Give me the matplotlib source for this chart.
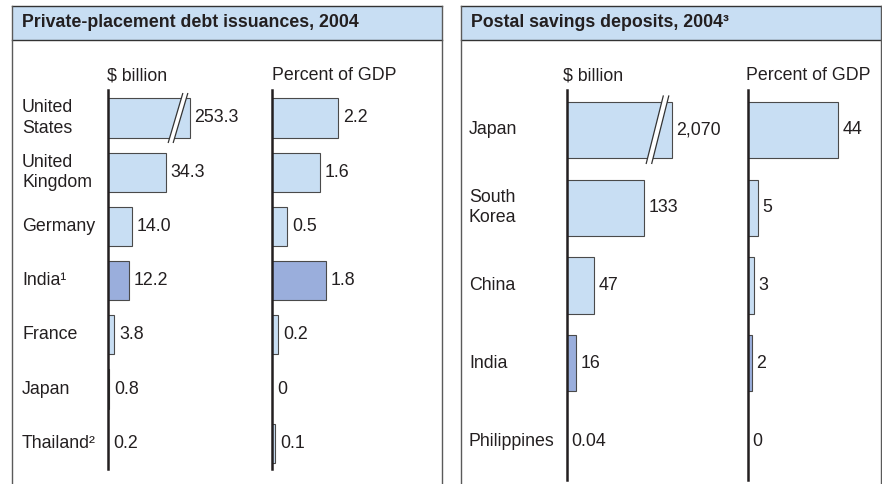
import matplotlib
matplotlib.use("Agg")
import matplotlib.pyplot as plt
from matplotlib import transforms
from matplotlib.patches import Rectangle, Polygon
from matplotlib.lines import Line2D

plt.rcParams['font.family'] = ['Liberation Sans', 'DejaVu Sans']

# ---- data -------------------------------------------------------------
pp_countries = ["United\nStates", "United\nKingdom", "Germany", "India\u00b9",
                "France", "Japan", "Thailand\u00b2"]
pp_billion = [253.3, 34.3, 14.0, 12.2, 3.8, 0.8, 0.2]
pp_pct_gdp = [2.2, 1.6, 0.5, 1.8, 0.2, 0.0, 0.1]

ps_countries = ["Japan", "South\nKorea", "China", "India", "Philippines"]
ps_billion = [2070, 133, 47, 16, 0.04]
ps_pct_gdp = [44, 5, 3, 2, 0]

highlight = "India"

title_left = "Private-placement debt issuances, 2004"
title_right = "Postal savings deposits, 2004\u00b3"
unit_billion = "$ billion"
unit_pct = "Percent of GDP"

# ---- style ------------------------------------------------------------
W, H = 882, 484
FS = 12.8
TXT = "#231f20"
LIGHT = "#c8def3"
DARK = "#9aaedc"
EDGE = "#4a4a4a"
AXIS = "#231f20"
BOX = "#5a5a5a"

fig = plt.figure(figsize=(W / 100, H / 100), dpi=100)
fig.patch.set_facecolor("white")

# background axes in pixel coordinates for frames and headings
bg = fig.add_axes([0, 0, 1, 1])
bg.set_xlim(0, W)
bg.set_ylim(H, 0)
bg.axis("off")


def panel_frame(x0, x1, title):
    bg.add_patch(Rectangle((x0, 5.5), x1 - x0, 34.5, facecolor=LIGHT,
                           edgecolor="none", zorder=1))
    for xs, ys, c in [((x0, x1), (5.5, 5.5), "#333333"),
                      ((x0, x1), (40, 40), "#333333"),
                      ((x0, x0), (5.5, H + 5), BOX),
                      ((x1, x1), (5.5, H + 5), BOX)]:
        bg.add_line(Line2D(xs, ys, color=c, lw=1.0, zorder=2))
    bg.text(x0 + 10.5, 22.5, title, fontsize=FS, fontweight="bold",
            color=TXT, ha="left", va="center")


panel_frame(11.5, 441.5, title_left)
panel_frame(460.5, 881.0, title_right)


def make_axes(x0, x1, y0, y1, xmax, nrows, pitch, first):
    ax = fig.add_axes([x0 / W, 1 - y1 / H, (x1 - x0) / W, (y1 - y0) / H])
    ax.set_xlim(0, xmax)
    ax.set_ylim((y1 - first) / pitch, (y0 - first) / pitch)
    ax.patch.set_alpha(0)
    for s in ("top", "right", "bottom"):
        ax.spines[s].set_visible(False)
    ax.spines["left"].set_linewidth(1.8)
    ax.spines["left"].set_color(AXIS)
    ax.spines["left"].set_zorder(5)
    ax.set_xticks([])
    ax.set_yticks([])
    return ax


def draw_break(ax, xend, row, back_px, half_h, slant, gap):
    trans = fig.dpi_scale_trans + transforms.ScaledTranslation(xend, row, ax.transData)
    c = -back_px
    p = lambda x, y: ((c + x) / 100, y / 100)
    poly = [p(-slant - gap / 2, -half_h), p(slant - gap / 2, half_h),
            p(slant + gap / 2, half_h), p(-slant + gap / 2, -half_h)]
    ax.add_patch(Polygon(poly, closed=True, facecolor="white", edgecolor="none",
                         transform=trans, zorder=3, clip_on=False))
    for dx in (-gap / 2, gap / 2):
        a, b = p(-slant + dx, -half_h), p(slant + dx, half_h)
        ax.add_line(Line2D([a[0], b[0]], [a[1], b[1]], color="#333333", lw=0.9,
                           transform=trans, zorder=4, clip_on=False))


def draw_bars(ax, names, values, labels, cap=None, brk=None):
    for i, (name, v, lab) in enumerate(zip(names, values, labels)):
        shown = min(v, cap) if cap is not None else v
        color = DARK if name.startswith(highlight) else LIGHT
        if shown > 0:
            ax.barh(i, shown, height=0.72, left=0, color=color, edgecolor=EDGE,
                    linewidth=0.8, zorder=2)
        ax.annotate(lab, xy=(shown, i), xytext=(4.5, 0), textcoords="offset pixels",
                    ha="left", va="center", fontsize=FS, color=TXT,
                    annotation_clip=False)
        if cap is not None and v > cap and brk is not None:
            draw_break(ax, shown, i, *brk)


def country_labels(ax, names, x_px):
    tr = transforms.blended_transform_factory(bg.transData, ax.transData)
    for i, name in enumerate(names):
        ax.text(x_px, i, name, transform=tr, ha="left", va="center",
                fontsize=FS, color=TXT, linespacing=1.25)


def fmt_one(v):
    return f"{v:.1f}" if v else "0"


def fmt_int(v):
    return f"{v:,.0f}" if v >= 1 else f"{v:g}"


# ---- left panel: private placement -----------------------------------
l_pitch, l_first = 54.2, 118.0
ax1 = make_axes(108, 250, 90, 469, 142 / 1.7, len(pp_countries), l_pitch, l_first)
ax2 = make_axes(272.3, 430, 90, 469, 157.7 / 30.0, len(pp_countries), l_pitch, l_first)
draw_bars(ax1, pp_countries, pp_billion, [f"{v:.1f}" for v in pp_billion],
          cap=82 / 1.7, brk=(12, 24.4, 7.2, 5.0))
draw_bars(ax2, pp_countries, pp_pct_gdp, [fmt_one(v) for v in pp_pct_gdp])
country_labels(ax1, pp_countries, 22)
bg.text(107, 76, unit_billion, fontsize=FS, color=TXT, ha="left", va="center")
bg.text(272.5, 76, unit_pct, fontsize=FS, color=TXT, ha="left", va="center")

# ---- right panel: postal savings --------------------------------------
r_pitch, r_first = 77.9, 129.7
ax3 = make_axes(566.5, 730, 90, 480, 163.5 / 0.585, len(ps_countries), r_pitch, r_first)
ax4 = make_axes(747.5, 870, 90, 480, 122.5 / 2.05, len(ps_countries), r_pitch, r_first)
draw_bars(ax3, ps_countries, ps_billion, [fmt_int(v) for v in ps_billion],
          cap=105 / 0.585, brk=(14, 33.7, 8.5, 5.5))
draw_bars(ax4, ps_countries, ps_pct_gdp, [fmt_int(v) for v in ps_pct_gdp])
country_labels(ax3, ps_countries, 469)
bg.text(563, 76, unit_billion, fontsize=FS, color=TXT, ha="left", va="center")
bg.text(746, 76, unit_pct, fontsize=FS, color=TXT, ha="left", va="center")

fig.savefig("out.png", dpi=100, facecolor="white")
